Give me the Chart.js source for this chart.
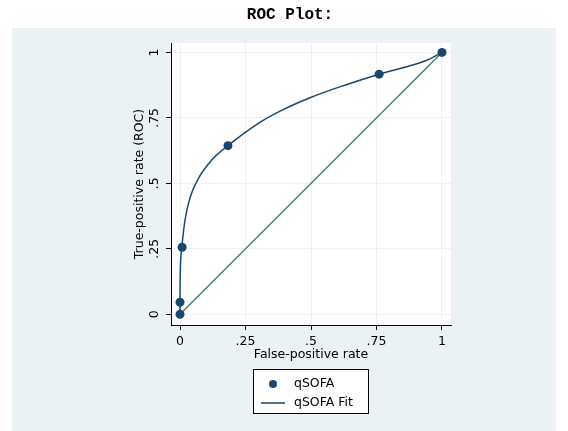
<!DOCTYPE html>
<html>
<head>
<meta charset="utf-8">
<script src="https://cdn.jsdelivr.net/npm/chart.js@4"></script>
<style>
  html, body { margin: 0; padding: 0; background: #fff; }
  #wrap { width: 568px; height: 431px; }
</style>
</head>
<body>
<div id="wrap"><canvas id="rocChart"></canvas></div>
<script>
// ROC points (observed)
const fpr = [0, 0, 0.008, 0.183, 0.760, 1];
const tpr = [0, 0.046, 0.256, 0.644, 0.917, 1];

// fitted curve
const fitFpr = [0, 0.0001, 0.001, 0.003, 0.008, 0.02, 0.039, 0.071, 0.122, 0.183, 0.305, 0.382, 0.496, 0.623, 0.757, 0.942, 1];
const fitTpr = [0, 0.08, 0.16, 0.215, 0.268, 0.365, 0.448, 0.52, 0.59, 0.644, 0.733, 0.776, 0.827, 0.873, 0.916, 0.970, 1];

// reference line
const diagX = [0, 1];
const diagY = [0, 1];

const tickVals = [0, 0.25, 0.5, 0.75, 1];
const tickLabels = ['0', '.25', '.5', '.75', '1'];

const navy = '#1a476f';
const teal = '#3b7f6f';
const panel = '#eaf2f3';
const font = { family: 'DejaVu Sans', size: 12.5 };

const toXY = (xs, ys) => xs.map((x, i) => ({ x: x, y: ys[i] }));

// background panel, title and legend
const stataLook = {
  id: 'stataLook',
  beforeDraw(chart) {
    const { ctx, chartArea: a } = chart;
    ctx.save();
    ctx.fillStyle = '#fff';
    ctx.fillRect(0, 0, chart.width, chart.height);
    ctx.fillStyle = panel;
    ctx.fillRect(12, 28, 544, 403);
    ctx.fillStyle = '#fff';
    ctx.fillRect(a.left, a.top, a.right - a.left, a.bottom - a.top);
    ctx.restore();
  },
  afterDraw(chart) {
    const ctx = chart.ctx;
    ctx.save();
    ctx.fillStyle = '#000';
    ctx.font = 'bold 16px "Liberation Mono"';
    ctx.textAlign = 'center';
    ctx.textBaseline = 'middle';
    ctx.fillText('ROC Plot:', 290, 15);

    // legend box
    ctx.fillStyle = '#fff';
    ctx.fillRect(253.5, 369.5, 115, 44);
    ctx.strokeStyle = '#000';
    ctx.lineWidth = 1;
    ctx.strokeRect(253.5, 369.5, 115, 44);

    const ds = chart.data.datasets;
    ctx.fillStyle = ds[0].backgroundColor;
    ctx.beginPath();
    ctx.arc(273, 384, 4, 0, Math.PI * 2);
    ctx.fill();
    ctx.strokeStyle = ds[1].borderColor;
    ctx.lineWidth = 1.5;
    ctx.beginPath();
    ctx.moveTo(261, 403);
    ctx.lineTo(285, 403);
    ctx.stroke();

    ctx.fillStyle = '#000';
    ctx.font = '12.5px "DejaVu Sans"';
    ctx.textAlign = 'left';
    ctx.fillText(ds[0].label, 294, 384);
    ctx.fillText(ds[1].label, 294, 403);
    ctx.restore();
  }
};

const ctx = document.getElementById('rocChart').getContext('2d');
const rocChart = new Chart(ctx, {
  type: 'scatter',
  data: {
    datasets: [
      {
        label: 'qSOFA',
        data: toXY(fpr, tpr),
        showLine: false,
        backgroundColor: navy,
        borderColor: navy,
        pointRadius: 4.5,
        pointBorderWidth: 0
      },
      {
        label: 'qSOFA Fit',
        data: toXY(fitFpr, fitTpr),
        showLine: true,
        borderColor: navy,
        borderWidth: 1.5,
        pointRadius: 0,
        cubicInterpolationMode: 'monotone'
      },
      {
        label: 'reference',
        data: toXY(diagX, diagY),
        showLine: true,
        borderColor: teal,
        borderWidth: 1.3,
        pointRadius: 0
      }
    ]
  },
  options: {
    responsive: true,
    maintainAspectRatio: false,
    animation: false,
    layout: { padding: { top: 43, left: 0, right: 117, bottom: 0 } },
    plugins: {
      legend: { display: false },
      tooltip: { enabled: false },
      title: { display: false }
    },
    scales: {
      x: {
        type: 'linear',
        min: -0.0344,
        max: 1.0344,
        afterBuildTicks: s => { s.ticks = tickVals.map(v => ({ value: v })); },
        afterFit: s => { s.height = 106; },
        ticks: {
          callback: (v, i) => tickLabels[i],
          font: font,
          color: '#000',
          padding: 4,
          maxRotation: 0,
          autoSkip: false
        },
        grid: { color: panel, lineWidth: 1, tickColor: '#000', tickLength: 5 },
        border: { color: '#000', width: 1 },
        title: {
          display: true,
          text: 'False-positive rate',
          font: font,
          color: '#000',
          padding: { top: 0, bottom: 69 }
        }
      },
      y: {
        type: 'linear',
        min: -0.041,
        max: 1.036,
        afterBuildTicks: s => { s.ticks = tickVals.map(v => ({ value: v })); },
        afterFit: s => { s.width = 171; },
        ticks: {
          callback: (v, i) => tickLabels[i],
          font: font,
          color: '#000',
          padding: 1,
          minRotation: 90,
          maxRotation: 90,
          crossAlign: 'center',
          autoSkip: false
        },
        grid: { color: panel, lineWidth: 1, tickColor: '#000', tickLength: 5 },
        border: { color: '#000', width: 1 },
        title: {
          display: true,
          text: 'True-positive rate (ROC)',
          font: font,
          color: '#000',
          padding: { top: 132.5, bottom: 0 }
        }
      }
    }
  },
  plugins: [stataLook]
});
</script>
</body>
</html>
